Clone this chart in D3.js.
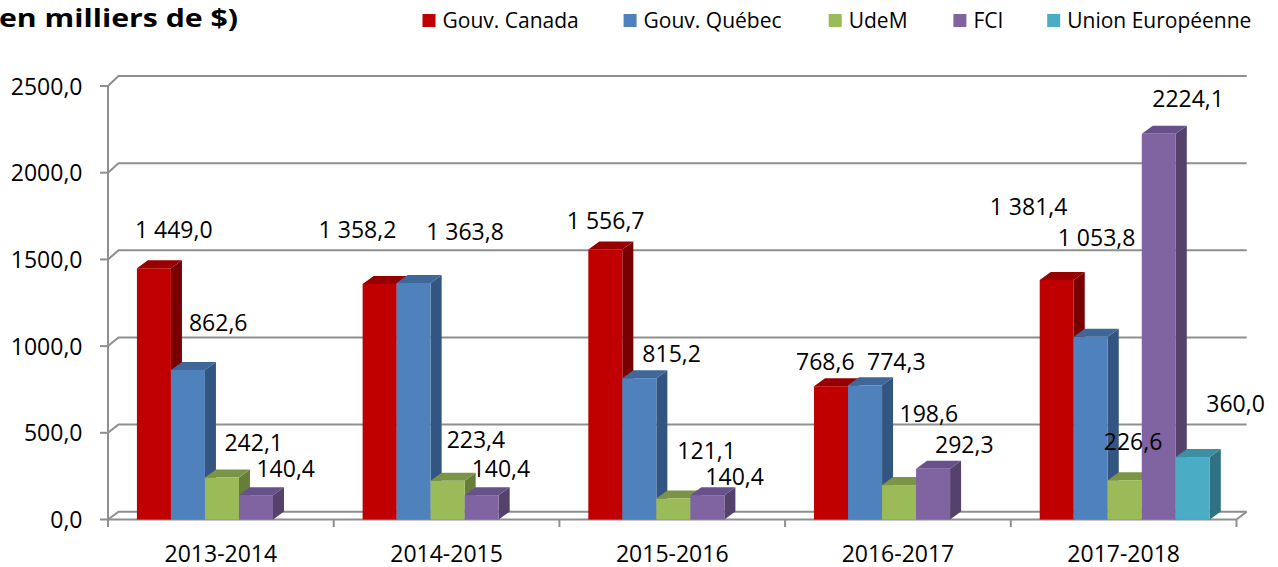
<!DOCTYPE html>
<html>
<head>
<meta charset="utf-8">
<script src="https://cdn.jsdelivr.net/npm/d3@7"></script>
<style>
  body { margin: 0; background: #ffffff; }
  svg { display: block; }
  text { font-family: "Open Sans", "Liberation Sans", sans-serif; fill: #000; }
</style>
</head>
<body>
<script>
// ---------- DATA ----------
const categories = ["2013-2014", "2014-2015", "2015-2016", "2016-2017", "2017-2018"];
const seriesNames = ["Gouv. Canada", "Gouv. Québec", "UdeM", "FCI", "Union Européenne"];
const gouvCanada = [1449.0, 1358.2, 1556.7, 768.6, 1381.4];
const gouvQuebec = [862.6, 1363.8, 815.2, 774.3, 1053.8];
const udem = [242.1, 223.4, 121.1, 198.6, 226.6];
const fci = [140.4, 140.4, 140.4, 292.3, 2224.1];
const unionEuropeenne = [null, null, null, null, 360.0];
const seriesValues = [gouvCanada, gouvQuebec, udem, fci, unionEuropeenne];
const seriesGrouping = [true, true, true, false, true]; // thousands separator in data labels
const yTicks = [0, 500, 1000, 1500, 2000, 2500];
const titleText = "en milliers de $)";

// ---------- STYLE ----------
const frontColors = ["#C00000", "#4F81BD", "#9BBB59", "#8064A2", "#4BACC6"];
const topColors   = ["#980000", "#3F6899", "#7B9446", "#67518A", "#3C8EA3"];
const sideColors  = ["#780000", "#335581", "#677E3B", "#54416C", "#2F7282"];
const gridColor = "#8f8f8f";

// label nudges (dx, dy) relative to bar front-left / front-top, per series per category
const labelNudges = [
  [[-2, -30], [-44, -46], [-21.5, -21], [-18, -16], [-50, -65]],
  [[18, -39], [29.5, -43.5], [20, -16.5], [19, -15], [-16, -91]],
  [[19.5, -27], [16, -32.5], [21, -40], [17.5, -63.5], [-4, -30]],
  [[17.5, -18], [7, -18], [15, -10], [19, -15.5], [10.5, -26.5]],
  [[0, 0], [0, 0], [0, 0], [0, 0], [30.5, -45.5]]
];

// ---------- LAYOUT ----------
const W = 1278, H = 567;
const svg = d3.select("body").append("svg").attr("width", W).attr("height", H);

const frontLeft = 108, frontRight = 1236.5;
const backLeft = 118.5, backRight = 1246.7;
const DX = 11, DY = -8; // bar depth

const x0 = d3.scaleBand().domain(categories).range([frontLeft, frontRight]);
const x1 = d3.scaleBand().domain(seriesNames).range([0, x0.bandwidth()])
  .paddingInner(0).paddingOuter(0.8176).align(0.52);
const yF = d3.scaleLinear().domain([0, 2500]).range([519.5, 86]);
const yB = d3.scaleLinear().domain([0, 2500]).range([511.7, 76]);

const locale = d3.formatLocale({ decimal: ",", thousands: "\u00a0", grouping: [3] });
const fmtGroup = locale.format(",.1f");
const fmtPlain = locale.format(".1f");

// ---------- TITLE ----------
svg.append("text")
  .attr("x", -1).attr("y", 27)
  .attr("textLength", 239).attr("lengthAdjust", "spacingAndGlyphs")
  .style("font-size", "25px").style("font-weight", "bold")
  .text(titleText);

// ---------- LEGEND ----------
const legendX = [422.5, 623.6, 828.7, 953.4, 1047.2];
const legend = svg.append("g");
seriesNames.forEach((s, j) => {
  legend.append("rect").attr("x", legendX[j]).attr("y", 14).attr("width", 13).attr("height", 13)
    .attr("fill", frontColors[j]);
  legend.append("text").attr("x", legendX[j] + 20).attr("y", 28)
    .style("font-size", "21px").text(s);
});

// ---------- GRID / WALLS ----------
const grid = svg.append("g").attr("fill", "none").attr("stroke", gridColor).attr("stroke-width", 2);
yTicks.forEach(t => {
  grid.append("path")
    .attr("d", `M${frontLeft},${yF(t)} L${backLeft},${yB(t)} L${backRight},${yB(t)}`);
  grid.append("path").attr("d", `M${frontLeft - 8},${yF(t)} H${frontLeft}`);
});
// front vertical axis
grid.append("path").attr("d", `M${frontLeft},${yF(2500)} V${yF(0) + 7.5}`);
// floor front edge and right edge
grid.append("path").attr("d", `M${frontLeft},${yF(0)} H${frontRight} L${backRight},${yB(0)}`);
// category ticks
const tickXs = categories.map(c => x0(c)).concat([frontRight]);
tickXs.forEach(x => grid.append("path").attr("d", `M${x},${yF(0)} V${yF(0) + 7.5}`));

// ---------- AXIS LABELS ----------
svg.append("g").selectAll("text").data(yTicks).join("text")
  .attr("x", 82.5).attr("y", d => yF(d) + 8.5)
  .attr("text-anchor", "end").style("font-size", "23px")
  .text(d => fmtPlain(d));

svg.append("g").selectAll("text").data(categories).join("text")
  .attr("x", d => x0(d) + x0.bandwidth() / 2).attr("y", 561.5)
  .attr("text-anchor", "middle").style("font-size", "23px")
  .text(d => d);

// ---------- BARS ----------
const bars = svg.append("g");
const bw = x1.bandwidth();
categories.forEach((c, i) => {
  seriesNames.forEach((s, j) => {
    const v = seriesValues[j][i];
    if (v == null || v === 0) return;
    const xl = x0(c) + x1(s), xr = xl + bw;
    const yt = yF(v), yb = yF(0);
    bars.append("path")
      .attr("d", `M${xr},${yt} L${xr + DX},${yt + DY} L${xr + DX},${yb + DY} L${xr},${yb} Z`)
      .attr("fill", sideColors[j]);
    bars.append("path")
      .attr("d", `M${xl},${yt} L${xr},${yt} L${xr + DX},${yt + DY} L${xl + DX},${yt + DY} Z`)
      .attr("fill", topColors[j]);
    bars.append("rect").attr("x", xl).attr("y", yt).attr("width", bw).attr("height", yb - yt)
      .attr("fill", frontColors[j]);
  });
});

// ---------- DATA LABELS ----------
const labels = svg.append("g");
categories.forEach((c, i) => {
  seriesNames.forEach((s, j) => {
    const v = seriesValues[j][i];
    if (v == null || v === 0) return;
    const xl = x0(c) + x1(s);
    const [dx, dy] = labelNudges[j][i];
    labels.append("text")
      .attr("x", xl + dx).attr("y", yF(v) + dy)
      .style("font-size", "23px")
      .text(seriesGrouping[j] ? fmtGroup(v) : fmtPlain(v));
  });
});
</script>
</body>
</html>
